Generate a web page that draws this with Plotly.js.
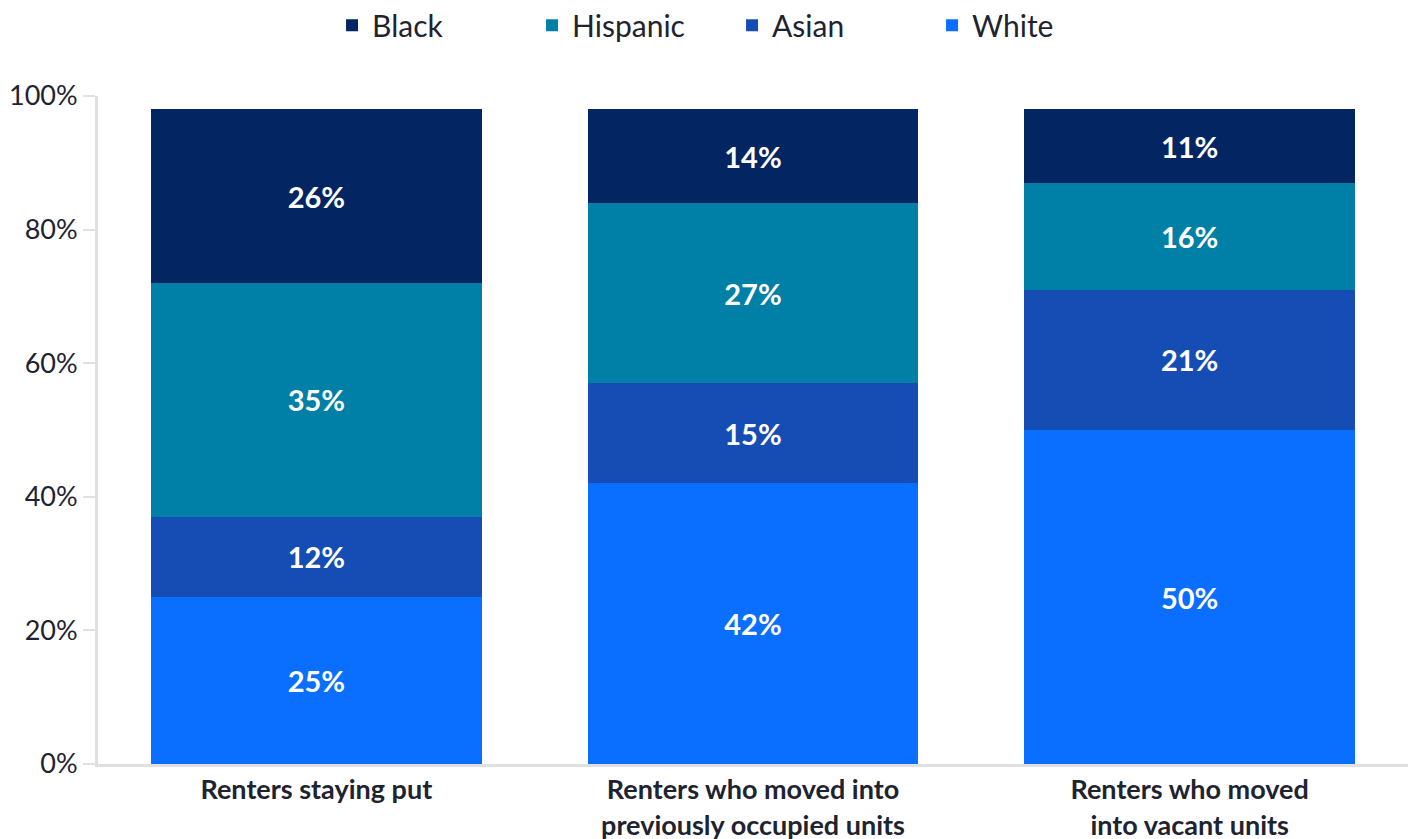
<!DOCTYPE html>
<html>
<head>
<meta charset="utf-8">
<script src="https://cdn.plot.ly/plotly-3.0.1.min.js"></script>
<style>html,body{margin:0;padding:0;background:#fff;}#chart{width:1416px;height:839px;}</style>
</head>
<body>
<div id="chart"></div>
<script>
var categories = ["Renters staying put", "Renters who moved into<br>previously occupied units", "Renters who moved<br>into vacant units"];
var seriesNames = ["White", "Asian", "Hispanic", "Black"];
var white = [25, 42, 50];
var asian = [12, 15, 21];
var hispanic = [35, 27, 16];
var black = [26, 14, 11];
var seriesValues = [white, asian, hispanic, black];
var seriesColors = ["#0a6eff", "#164db4", "#0080a6", "#032663"];
var yTickVals = [0, 20, 40, 60, 80, 100];
var yTickText = ["0%", "20%", "40%", "60%", "80%", "100%"];

var font = "Lato, 'Open Sans', sans-serif";
var traces = seriesNames.map(function(name, i){
  return {
    type: "bar",
    name: name,
    x: categories,
    y: seriesValues[i],
    marker: {color: seriesColors[i]},
    text: seriesValues[i].map(function(v){return v + "%";}),
    textposition: "inside",
    insidetextanchor: "middle",
    textangle: 0,
    constraintext: "none",
    textfont: {family: font, size: 29, color: "#ffffff", weight: "bold"},
    hoverinfo: "name+y"
  };
});

var layout = {
  width: 1416, height: 839,
  barmode: "stack",
  bargap: 0.243,
  paper_bgcolor: "#ffffff",
  plot_bgcolor: "#ffffff",
  margin: {l: 98, r: 8, t: 96, b: 75, autoexpand: false},
  font: {family: font, color: "#1e2330"},
  showlegend: true,
  legend: {
    orientation: "h",
    traceorder: "reversed",
    x: 0.484, xanchor: "center",
    y: 1.106, yanchor: "middle",
    font: {family: font, size: 30, color: "#1e2330"},
    entrywidth: 155,
    entrywidthmode: "pixels"
  },
  xaxis: {
    showline: true, linecolor: "#e0e0e0", linewidth: 3,
    ticks: "", showgrid: false, zeroline: false,
    tickfont: {family: font, size: 27, color: "#1e2330", weight: "bold"}
  },
  yaxis: {
    range: [0, 100],
    tickmode: "array",
    tickvals: yTickVals,
    ticktext: yTickText,
    showline: true, linecolor: "#e0e0e0", linewidth: 3,
    ticks: "outside", ticklen: 12, tickwidth: 2, tickcolor: "#e0e0e0",
    showgrid: false, zeroline: false,
    tickfont: {family: font, size: 27, color: "#1e2330"}
  }
};

Plotly.newPlot("chart", traces, layout, {displayModeBar: false, staticPlot: true});
</script>
</body>
</html>
